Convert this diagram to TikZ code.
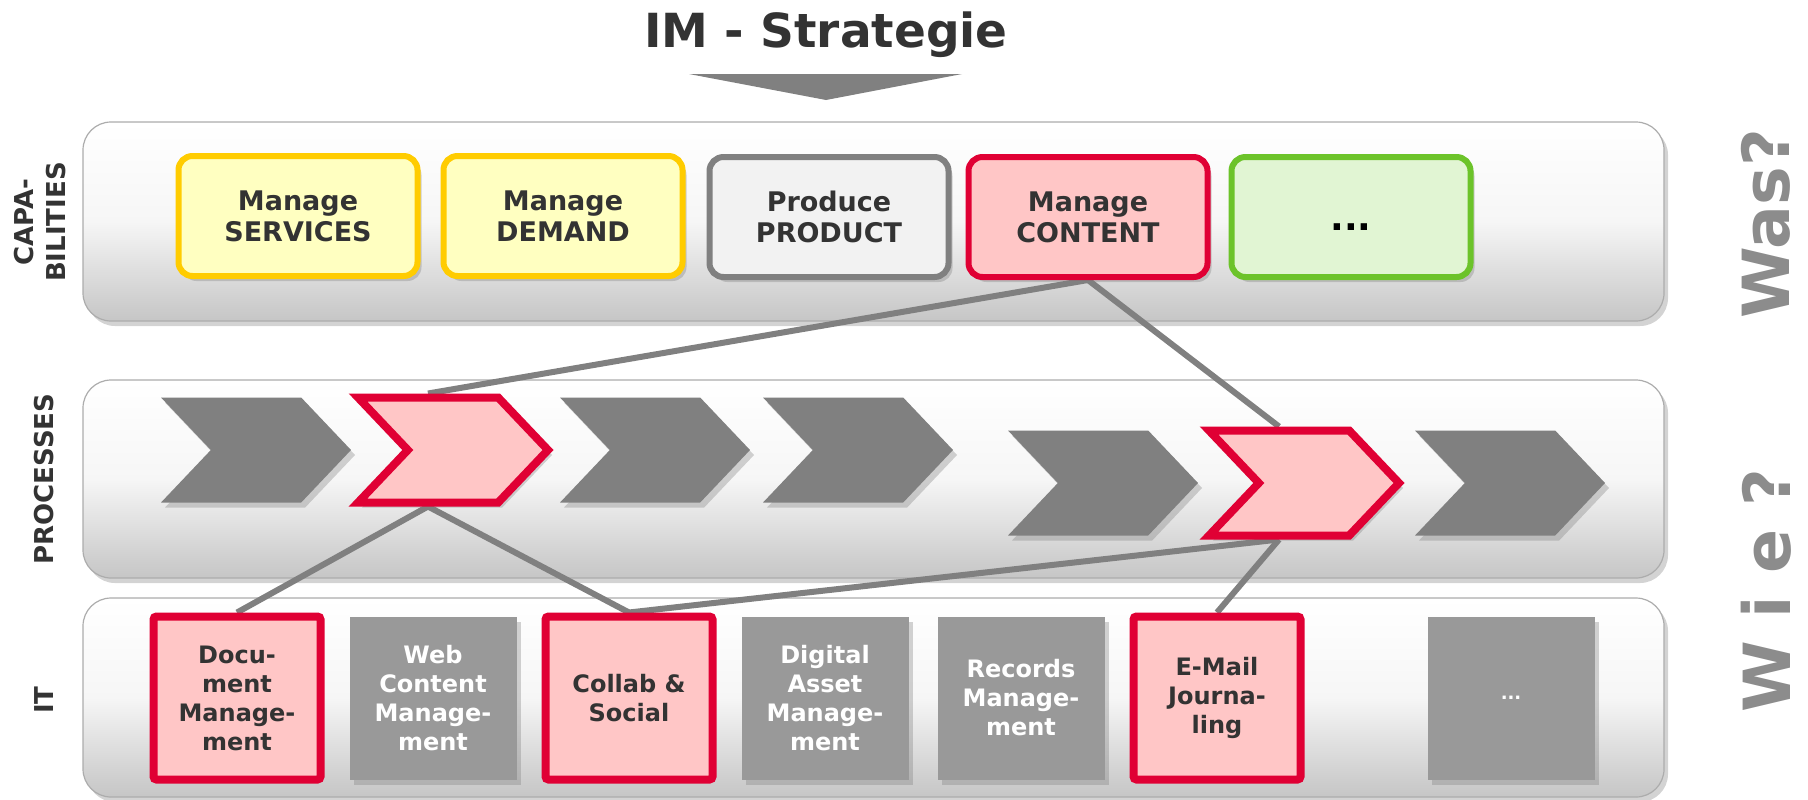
\documentclass[tikz,border=0pt]{standalone}
\usepackage{fontspec}
\setmainfont{DejaVu Sans}
\usetikzlibrary{shapes.symbols,shadows}
\definecolor{txtgray}{HTML}{333333}
\definecolor{midgray}{HTML}{808080}
\definecolor{boxgray}{HTML}{999999}
\definecolor{qgray}{HTML}{8C8C8C}
\definecolor{imred}{HTML}{E00034}
\definecolor{imredfill}{HTML}{FFC6C6}
\definecolor{imyellow}{HTML}{FFCC00}
\definecolor{imyellowfill}{HTML}{FFFFC1}
\definecolor{imgreen}{HTML}{6CC32A}
\definecolor{imgreenfill}{HTML}{E1F5D3}
\definecolor{lightfill}{HTML}{F2F2F2}
\pgfdeclarelayer{panels}
\pgfdeclarelayer{wires}
\pgfsetlayers{panels,wires,main}

\begin{document}
\begin{tikzpicture}[x=0.5pt, y=-0.5pt,
		softshadow/.style={drop shadow={opacity=0.35, shadow xshift=2pt, shadow yshift=-2.5pt}},
		panel/.style={rounded corners=14pt, draw=gray!65, line width=0.6pt, top color=white, bottom color=gray!45, middle color=gray!7, softshadow},
		capbox/.style={rectangle, rounded corners=7pt, line width=3pt, minimum width=119.5pt, minimum height=60pt, inner sep=0pt, align=center, text=txtgray, font=\fontsize{13.5}{15.5}\selectfont\bfseries, softshadow},
		chev/.style={signal, signal from=west, signal to=east, signal pointer angle=93, minimum width=95pt, minimum height=52.5pt, inner sep=0pt, fill=midgray, softshadow},
		chevred/.style={chev, draw=imred, fill=imredfill, line width=4pt},
		itbox/.style={rectangle, minimum width=83.5pt, minimum height=81.5pt, inner sep=0pt, align=center, font=\fontsize{12}{14.5}\selectfont\bfseries},
		itgray/.style={itbox, fill=boxgray, text=white, softshadow},
		itred/.style={itbox, draw=imred, fill=imredfill, line width=4pt, rounded corners=1.5pt, text=txtgray},
		sidelabel/.style={rotate=90, align=center, text=txtgray, font=\fontsize{13}{16}\selectfont\bfseries},
		bigq/.style={rotate=90, text=qgray, font=\fontsize{32.5}{39}\selectfont\bfseries},
		wire/.style={draw=midgray, line width=3pt}]
	\useasboundingbox (0,0) rectangle (1808,799);
	% title and arrow
	\node[anchor=base, text=txtgray, font=\fontsize{23.5}{28}\selectfont\bfseries] (title) at (826,47) {IM - Strategie};
	\fill[midgray] (689,74) -- (962,74) -- (826,100) -- cycle;
	% three layers
	\begin{pgfonlayer}{panels}
		\path[panel] (83,122) rectangle (1664,321);
		\path[panel] (83,380) rectangle (1664,578);
		\path[panel] (83,598) rectangle (1664,797);
	\end{pgfonlayer}
	\node[sidelabel] (lcap) at (40,222) {CAPA-\\BILITIES};
	\node[sidelabel] (lproc) at (44,479) {PROCESSES};
	\node[sidelabel] (lit) at (44,700) {IT};
	\node[bigq] (was) at (1766,224) {Was?};
	\node[bigq] (wie) at (1766,591) {W i e ?};
	% capabilities
	\node[capbox, draw=imyellow, fill=imyellowfill] (services) at (298,216) {Manage\\SERVICES};
	\node[capbox, draw=imyellow, fill=imyellowfill] (demand) at (563,216) {Manage\\DEMAND};
	\node[capbox, draw=midgray, fill=lightfill] (product) at (829,217) {Produce\\PRODUCT};
	\node[capbox, draw=imred, fill=imredfill] (content) at (1088,217) {Manage\\CONTENT};
	\node[capbox, draw=imgreen, fill=imgreenfill, text=black, font=\fontsize{18}{20}\selectfont\bfseries] (more) at (1351,217) {\vphantom{M}...};
	% processes
	\foreach \x/\n in {256/c1, 655/c3, 858/c4}
	{
		\node[chev] (\n) at (\x,450) {};
	}
	\foreach \x/\n in {1103/c5, 1510/c7}
	{
		\node[chev] (\n) at (\x,483) {};
	}
	\node[chevred] (c2) at (453,450) {};
	\node[chevred] (c6) at (1304,483) {};
	% it systems
	\node[itred] (doc) at (237,698) {Docu-\\ment\\Manage-\\ment};
	\node[itgray] (web) at (433,698) {Web\\Content\\Manage-\\ment};
	\node[itred] (collab) at (629,698) {Collab \&\\Social};
	\node[itgray] (dam) at (825,698) {Digital\\Asset\\Manage-\\ment};
	\node[itgray] (records) at (1021,698) {Records\\Manage-\\ment};
	\node[itred] (mail) at (1217,698) {E-Mail\\Journa-\\ling};
	\node[itgray, font=\fontsize{9}{10}\selectfont\bfseries] (itmore) at (1511,698) {...};
	% links
	\begin{pgfonlayer}{wires}
		\draw[wire] (content.south) -- ([xshift=-12.5pt]c2.north);
		\draw[wire] (content.south) -- ([xshift=-12.5pt]c6.north);
		\draw[wire] ([xshift=-12.5pt]c2.south) -- (doc.north);
		\draw[wire] ([xshift=-12.5pt]c2.south) -- (collab.north);
		\draw[wire] (collab.north) -- ([xshift=-12.5pt]c6.south);
		\draw[wire] ([xshift=-12.5pt]c6.south) -- (mail.north);
	\end{pgfonlayer}
\end{tikzpicture}
\end{document}
